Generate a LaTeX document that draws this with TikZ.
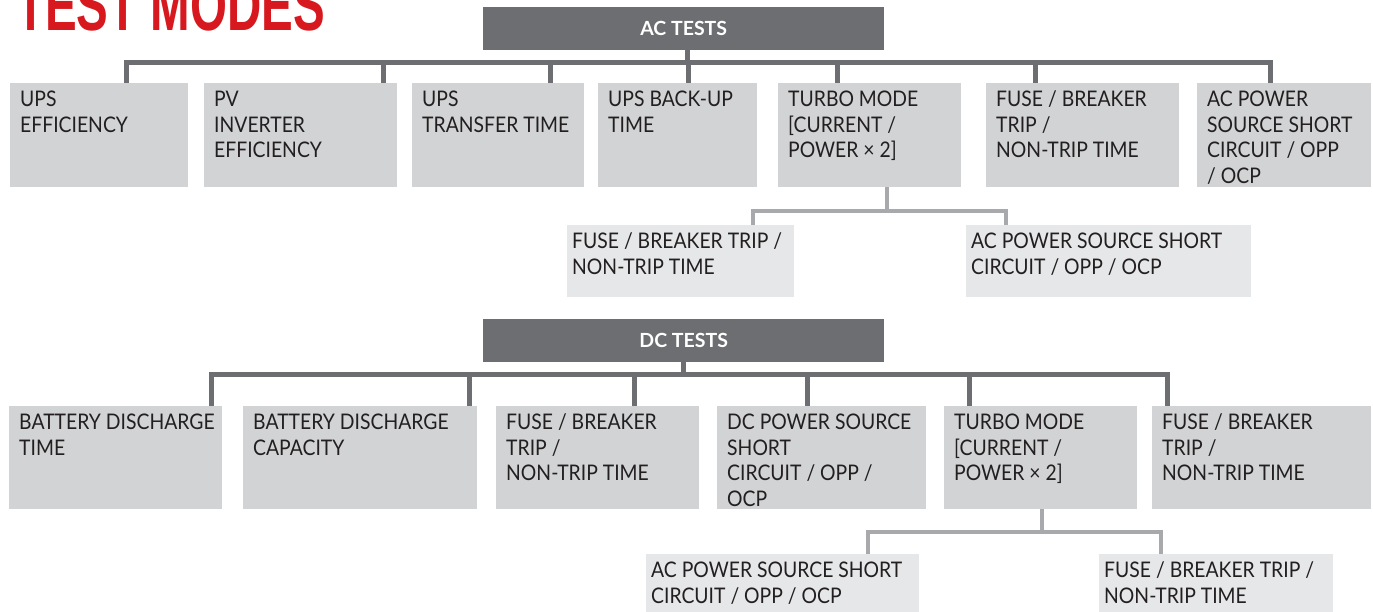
\documentclass[tikz,border=0pt]{standalone}
\usepackage{fontspec}
\setmainfont{Lato}[FakeStretch=0.9]
\newfontfamily\headfont{Lato}
\newfontfamily\titlefont{Liberation Sans}[FakeStretch=0.66]
\usetikzlibrary{backgrounds}
\definecolor{hdgray}{HTML}{6D6E71}
\definecolor{cellgray}{HTML}{D1D3D4}
\definecolor{subgray}{HTML}{E6E7E8}
\definecolor{twiggray}{HTML}{A7A9AC}
\definecolor{txt}{HTML}{231F20}
\definecolor{modered}{HTML}{D7191F}
\newcommand{\cellbox}[3]{\parbox[t][#2pt][t]{#1pt}{\rule{0pt}{23.5pt}\begin{tabular}[t]{@{}l@{}}#3\end{tabular}}}
\begin{document}
\begin{tikzpicture}[x=1pt,y=-1pt,
  cell/.style={fill=cellgray,anchor=north west,inner xsep=10pt,inner ysep=0pt,text=txt,font=\fontsize{21.5}{25.5}\selectfont},
  subcell/.style={cell,fill=subgray,inner xsep=5pt},
  head/.style={fill=hdgray,anchor=north west,inner sep=0pt,minimum width=401,minimum height=43,text=white,font=\headfont\bfseries\fontsize{19.5}{20}\selectfont},
  trunk/.style={draw=hdgray,line width=5pt,line cap=rect},
  twig/.style={draw=twiggray,line width=4.5pt,line cap=rect}]
\useasboundingbox (0,0) rectangle (1373,611);
\node[anchor=base west,inner sep=0pt,text=modered,font=\titlefont\bfseries\fontsize{72}{72}\selectfont] at (16,30) (title) {TEST MODES};

%AC tests
\node[head] at (483,7) (ac) {AC TESTS};
\node[cell] at (10,83) (ups) {\cellbox{158}{104}{UPS\\EFFICIENCY}};
\node[cell] at (204,83) (pv) {\cellbox{173}{104}{PV\\INVERTER\\EFFICIENCY}};
\node[cell] at (412,83) (trans) {\cellbox{152}{104}{UPS\\TRANSFER TIME}};
\node[cell] at (598,83) (backup) {\cellbox{139}{104}{UPS BACK-UP\\TIME}};
\node[cell] at (778,83) (turbo) {\cellbox{163}{104}{TURBO MODE\\{[}CURRENT /\\POWER × 2{]}}};
\node[cell] at (986,83) (fuse) {\cellbox{173}{104}{FUSE / BREAKER\\TRIP /\\NON-TRIP TIME}};
\node[cell] at (1197,83) (acsrc) {\cellbox{154}{104}{AC POWER\\SOURCE SHORT\\CIRCUIT / OPP\\/ OCP}};
%turbo branch
\node[subcell] at (567,225) (fuseB) {\cellbox{217}{72}{FUSE / BREAKER TRIP /\\NON-TRIP TIME}};
\node[subcell] at (966,225) (acsrcB) {\cellbox{275}{72}{AC POWER SOURCE SHORT\\CIRCUIT / OPP / OCP}};

%DC tests
\node[head] at (483,319) (dc) {DC TESTS};
\node[cell] at (9,406) (bdt) {\cellbox{193}{103}{BATTERY DISCHARGE\\TIME}};
\node[cell] at (243,406) (bdc) {\cellbox{214}{103}{BATTERY DISCHARGE\\CAPACITY}};
\node[cell] at (496,406) (dfuse) {\cellbox{183}{103}{FUSE / BREAKER\\TRIP /\\NON-TRIP TIME}};
\node[cell] at (717,406) (dcsrc) {\cellbox{189}{103}{DC POWER SOURCE\\SHORT\\CIRCUIT / OPP /\\OCP}};
\node[cell] at (944,406) (dturbo) {\cellbox{173}{103}{TURBO MODE\\{[}CURRENT /\\POWER × 2{]}}};
\node[cell] at (1152,406) (dfuseC) {\cellbox{199}{103}{FUSE / BREAKER\\TRIP /\\NON-TRIP TIME}};
%turbo branch
\node[subcell] at (646,554) (dacsrc) {\cellbox{263}{72}{AC POWER SOURCE SHORT\\CIRCUIT / OPP / OCP}};
\node[subcell] at (1099,554) (dfuseB) {\cellbox{224}{72}{FUSE / BREAKER TRIP /\\NON-TRIP TIME}};

\coordinate (acbar) at (0,62);
\coordinate (acsub) at (0,211);
\coordinate (dcbar) at (0,374);
\coordinate (dcsub) at (0,532);
\begin{scope}[on background layer]
%AC branching
\draw[trunk] ([xshift=4]ac.south) -- ([xshift=4]ac.south |- acbar);
\draw[trunk] ([xshift=116]ups.north west |- acbar) -- ([xshift=73]acsrc.north west |- acbar);
\foreach \n/\dx in {ups/116,pv/179,trans/138,backup/90,turbo/59,fuse/49,acsrc/73}
  \draw[trunk] ([xshift=\dx]\n.north west) -- ([xshift=\dx]\n.north west |- acbar);
\draw[twig] ([xshift=109]turbo.south west) -- ([xshift=109]turbo.south west |- acsub);
\draw[twig] ([xshift=186]fuseB.north west |- acsub) -- ([xshift=40]acsrcB.north west |- acsub);
\foreach \n/\dx in {fuseB/186,acsrcB/40}
  \draw[twig] ([xshift=\dx]\n.north west) -- ([xshift=\dx]\n.north west |- acsub);
%DC branching
\draw[trunk] (dc.south) -- (dc.south |- dcbar);
\draw[trunk] ([xshift=202]bdt.north west |- dcbar) -- ([xshift=15]dfuseC.north west |- dcbar);
\foreach \n/\dx in {bdt/202,bdc/226,dfuse/138,dcsrc/90,dturbo/25,dfuseC/15}
  \draw[trunk] ([xshift=\dx]\n.north west) -- ([xshift=\dx]\n.north west |- dcbar);
\draw[twig] ([xshift=98]dturbo.south west) -- ([xshift=98]dturbo.south west |- dcsub);
\draw[twig] ([xshift=222]dacsrc.north west |- dcsub) -- ([xshift=62]dfuseB.north west |- dcsub);
\foreach \n/\dx in {dacsrc/222,dfuseB/62}
  \draw[twig] ([xshift=\dx]\n.north west) -- ([xshift=\dx]\n.north west |- dcsub);
\end{scope}
\end{tikzpicture}
\end{document}
